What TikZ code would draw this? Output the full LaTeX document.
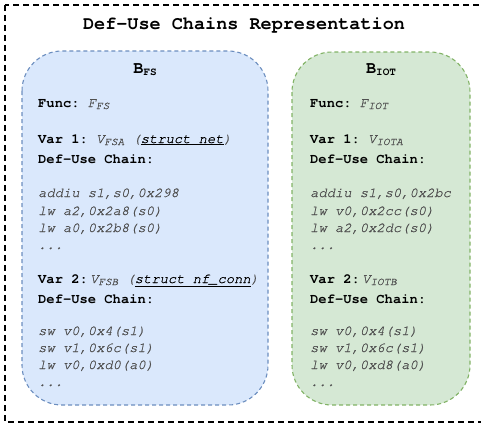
\documentclass[tikz,border=0pt]{standalone}
\usepackage{fontspec}
\setmonofont{texgyrecursor-regular.otf}[BoldFont=texgyrecursor-bold.otf, ItalicFont=texgyrecursor-italic.otf, BoldItalicFont=texgyrecursor-bolditalic.otf, ItalicFeatures={FakeBold=0.8}]
\definecolor{bfill}{HTML}{DAE8FC}
\definecolor{bdraw}{HTML}{6C8EBF}
\definecolor{gfill}{HTML}{D5E8D4}
\definecolor{gdraw}{HTML}{82B366}
\definecolor{codegray}{HTML}{505050}
\newcommand\subx[1]{\raisebox{-0.35ex}{\fontsize{11}{11}\selectfont #1}}
\newcommand\gi[1]{{\color{codegray}\itshape #1}}
\tikzset{
  txt/.style={anchor=base west, inner sep=0pt, font=\ttfamily\fontsize{13.8}{16}\selectfont},
  codeln/.style={txt, text=codegray, font=\ttfamily\itshape\fontsize{13.8}{16}\selectfont},
  head/.style={anchor=base, inner sep=0pt, font=\ttfamily\bfseries\fontsize{17}{18}\selectfont},
  bbox/.style={draw=bdraw, fill=bfill, dashed, dash pattern=on 4pt off 3pt, line width=1.1pt, rounded corners=40pt},
  gbox/.style={draw=gdraw, fill=gfill, dashed, dash pattern=on 4pt off 3pt, line width=1.1pt, rounded corners=40pt},
}
\begin{document}
\begin{tikzpicture}[x=1pt,y=-1pt]
\useasboundingbox (0,0) rectangle (481,426);
\draw[dash pattern=on 6pt off 4pt, line width=1.3pt] (5,5) rectangle (500,422);
\node[anchor=base, inner sep=0pt, font=\ttfamily\bfseries\fontsize{18.5}{20}\selectfont] (title) at (244,29) {Def-Use Chains Representation};
\draw[bbox] (22,51) rectangle (268,405);
\draw[gbox] (292,52) rectangle (470,405);
% blue
\node[head] (bfs) at (145,73) {B\subx{FS}};
\node[txt] (bf) at (38,107) {\textbf{Func:} \gi{F\subx{FS}}};
\node[txt] (bv1) at (38,143) {\textbf{Var 1:} \gi{V\subx{FSA} (}{\itshape\underline{struct net}}\gi{)}};
\node[txt] (bd1) at (38,163) {\textbf{Def-Use Chain:}};
\node[codeln] (bc1) at (38,197) {addiu s1,s0,0x298};
\node[codeln] (bc2) at (38,215) {lw a2,0x2a8(s0)};
\node[codeln] (bc3) at (38,232) {lw a0,0x2b8(s0)};
\node[codeln] (bc4) at (38,249) {...};
\node[txt] (bv2) at (38,283) {\textbf{Var 2:}\,\gi{V\subx{FSB} (}{\itshape\underline{struct nf\_conn}}\gi{)}};
\node[txt] (bd2) at (38,303) {\textbf{Def-Use Chain:}};
\node[codeln] (bc5) at (38,335) {sw v0,0x4(s1)};
\node[codeln] (bc6) at (38,352) {sw v1,0x6c(s1)};
\node[codeln] (bc7) at (38,369) {lw v0,0xd0(a0)};
\node[codeln] (bc8) at (38,386) {...};
% green
\node[head] (biot) at (381,73) {B\subx{IOT}};
\node[txt] (gf) at (310,107) {\textbf{Func:} \gi{F\subx{IOT}}};
\node[txt] (gv1) at (310,143) {\textbf{Var 1:} \gi{V\subx{IOTA}}};
\node[txt] (gd1) at (310,163) {\textbf{Def-Use Chain:}};
\node[codeln] (gc1) at (310,197) {addiu s1,s0,0x2bc};
\node[codeln] (gc2) at (310,215) {lw v0,0x2cc(s0)};
\node[codeln] (gc3) at (310,232) {lw a2,0x2dc(s0)};
\node[codeln] (gc4) at (310,249) {...};
\node[txt] (gv2) at (310,283) {\textbf{Var 2:}\,\gi{V\subx{IOTB}}};
\node[txt] (gd2) at (310,303) {\textbf{Def-Use Chain:}};
\node[codeln] (gc5) at (310,335) {sw v0,0x4(s1)};
\node[codeln] (gc6) at (310,352) {sw v1,0x6c(s1)};
\node[codeln] (gc7) at (310,369) {lw v0,0xd8(a0)};
\node[codeln] (gc8) at (310,386) {...};
\end{tikzpicture}
\end{document}
